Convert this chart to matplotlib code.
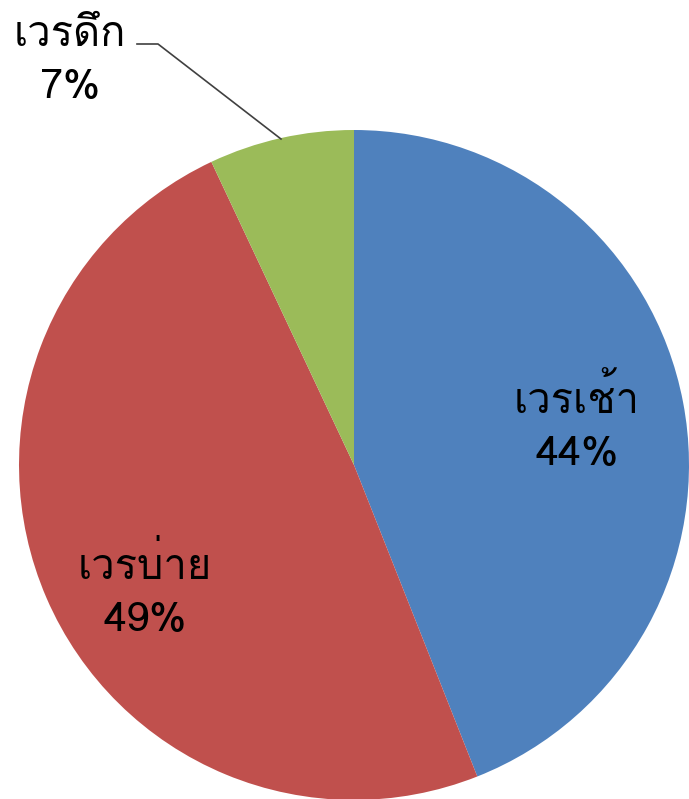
import matplotlib
matplotlib.use("Agg")
import matplotlib.pyplot as plt
from matplotlib import font_manager
from matplotlib.ft2font import FT2Font

labels = ["เวรเช้า", "เวรบ่าย", "เวรดึก"]
values = [44, 49, 7]
colors = ["#4F81BD", "#C0504D", "#9BBB59"]

# find an installed font that has Thai glyphs
thai_font = None
for f in font_manager.fontManager.ttflist:
    try:
        if FT2Font(f.fname).get_char_index(ord("เ")):
            thai_font = f.name
            break
    except Exception:
        pass
fams = ([thai_font] if thai_font else []) + ["DejaVu Sans"]
plt.rcParams["font.family"] = fams

W, H = 689, 799
fig = plt.figure(figsize=(W / 100, H / 100), dpi=100)
ax = fig.add_axes([0, 0, 1, 1])

cx, cy, r = 354, H - 465, 335
ax.pie(values, colors=colors, startangle=90, counterclock=False,
       center=(cx, cy), radius=r, frame=True,
       wedgeprops=dict(linewidth=0))
ax.set_xlim(0, W)
ax.set_ylim(0, H)
ax.set_aspect("equal")
ax.axis("off")

fs = 30
ax.text(577, H - 425, f"{labels[0]}\n{values[0]}%", ha="center", va="center",
        fontsize=fs, linespacing=1.5)
ax.text(145, H - 592, f"{labels[1]}\n{values[1]}%", ha="center", va="center",
        fontsize=fs, linespacing=1.5)
ax.text(70, H - 62, f"{labels[2]}\n{values[2]}%", ha="center", va="center",
        fontsize=fs, linespacing=1.5)
ax.plot([137, 158, 281], [H - 44, H - 44, H - 139], color="#404040", lw=1.2)

fig.savefig("out.png", dpi=100)
